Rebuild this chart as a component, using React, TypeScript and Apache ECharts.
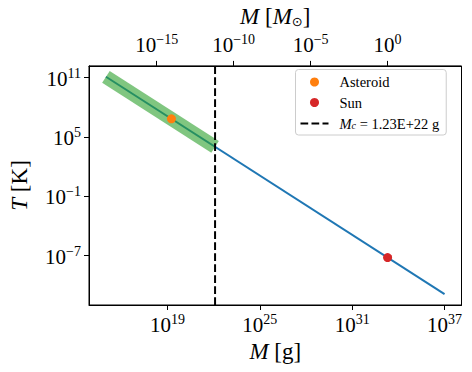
import React, { useEffect, useRef } from "react";
import * as echarts from "echarts";

// Data (real units)
const lineMassG = [1e15, 1e37];
const lineTempK = [1.23e11, 1.23e-11];
const bandMassG = [1e15, 1.23e22];
const bandTempK = [1.23e11, 1.0e4];
const asteroidMassG = [1.8e19];
const asteroidTempK = [6.8e6];
const sunMassG = [1.989e33];
const sunTempK = [6.17e-8];
const criticalMassG = 1.23e22;
const solarMassG = 1.989e33;
const xTickExps = [19, 25, 31, 37];
const yTickExps = [-7, -1, 5, 11];
const topTickExps = [-15, -10, -5, 0];

const L = Math.log10;
const FONT = "Liberation Serif";
const X_MIN = 13.9;
const X_MAX = 38.1;
const Y_MIN = -12.01;
const Y_MAX = 12.19;

const sup = (v: number) => {
  const e = Math.round(v);
  const s = e < 0 ? "\u2212" + Math.abs(e) : String(e);
  return `{b|10}{s|${s}}`;
};
const tickRich = {
  b: { fontFamily: FONT, fontSize: 21, lineHeight: 23, color: "#000", verticalAlign: "bottom" },
  s: { fontFamily: FONT, fontSize: 14, lineHeight: 14, color: "#000", verticalAlign: "top" },
};
const axisLine = { show: true, onZero: false, lineStyle: { color: "#000", width: 1 } };
const tick = (vals: number[]) => ({
  show: true,
  length: 5,
  lineStyle: { color: "#000", width: 1 },
  customValues: vals,
});
const label = (vals: number[], margin: number) => ({
  customValues: vals,
  formatter: sup,
  rich: tickRich,
  margin,
  fontFamily: FONT,
  fontSize: 21,
  color: "#000",
});

export default function App() {
  const ref = useRef<HTMLDivElement>(null);
  useEffect(() => {
    if (!ref.current) return;
    const chart = echarts.init(ref.current, null, { renderer: "svg" });
    const pair = (xs: number[], ys: number[]) => xs.map((x, i) => [L(x), L(ys[i])]);
    const cx = L(criticalMassG);
    const solarExp = L(solarMassG);
    const titleStyle = (extra: any = {}) => ({
      fontFamily: FONT,
      fontSize: 23,
      color: "#000",
      rich: {
        n: { fontFamily: FONT, fontSize: 23, color: "#000" },
        i: { fontFamily: FONT, fontSize: 23, fontStyle: "italic", color: "#000" },
        ...extra,
      },
    });
    const legendRich = {
      n: { fontFamily: FONT, fontSize: 14.5, lineHeight: 14, color: "#000" },
      i: { fontFamily: FONT, fontSize: 14.5, lineHeight: 14, fontStyle: "italic", color: "#000" },
      sub: { fontFamily: FONT, fontSize: 10, lineHeight: 14, fontStyle: "italic", color: "#000", verticalAlign: "bottom", padding: [5, 0, 0, 0] },
    };
    const legendText = {
      fontFamily: FONT,
      fontSize: 14.5,
      lineHeight: 14,
      color: "#000",
      padding: [0, 0, 0, 6],
      rich: legendRich,
    };
    chart.setOption({
      animation: false,
      textStyle: { fontFamily: FONT },
      grid: { left: 89, right: 10.5, top: 62, bottom: 67, show: true, borderColor: "#000", borderWidth: 1 },
      legend: {
        orient: "vertical",
        left: 295.5,
        top: 69.5,
        padding: [5, 7, 4, 4],
        itemWidth: 28,
        itemHeight: 9,
        itemGap: 5.5,
        backgroundColor: "rgba(255,255,255,0.8)",
        borderColor: "#cccccc",
        borderWidth: 1,
        borderRadius: 3,
        data: [
          { name: "Asteroid", textStyle: legendText },
          { name: "Sun", textStyle: legendText },
          { name: "Mc", itemStyle: { opacity: 0 }, textStyle: legendText },
        ],
        formatter: (name: string) =>
          name === "Mc" ? "{i|M}{sub|c}{n| = 1.23E+22 g}" : `{n|${name}}`,
        textStyle: legendText,
      },
      xAxis: [
        {
          type: "value",
          position: "bottom",
          min: X_MIN,
          max: X_MAX,
          axisLine,
          splitLine: { show: false },
          axisTick: tick(xTickExps),
          axisLabel: label(xTickExps, 7),
          name: "{i|M}{n| [g]}",
          nameLocation: "middle",
          nameGap: 33,
          nameTextStyle: titleStyle(),
        },
        {
          type: "value",
          position: "top",
          min: X_MIN - solarExp,
          max: X_MAX - solarExp,
          axisLine,
          splitLine: { show: false },
          axisTick: tick(topTickExps),
          axisLabel: label(topTickExps, 10),
          name: "{i|M}{n| [}{i|M}{sub|\u2299}{n|]}",
          nameLocation: "middle",
          nameGap: 31,
          nameTextStyle: titleStyle({
            sub: { fontFamily: "DejaVu Sans", fontSize: 13, color: "#000", verticalAlign: "bottom", padding: [9, 0, 0, 0] },
          }),
        },
      ],
      yAxis: {
        type: "value",
        min: Y_MIN,
        max: Y_MAX,
        axisLine,
        splitLine: { show: false },
        axisTick: tick(yTickExps),
        axisLabel: label(yTickExps, 8),
        name: "{i|T}{n| [K]}",
        nameLocation: "middle",
        nameGap: 58,
        nameRotate: 90,
        nameTextStyle: titleStyle(),
      },
      series: [
        {
          name: "Hawking",
          type: "line",
          data: pair(lineMassG, lineTempK),
          symbol: "none",
          lineStyle: { color: "#1f77b4", width: 2 },
          z: 2,
        },
        {
          name: "band",
          type: "line",
          data: pair(bandMassG, bandTempK),
          symbol: "none",
          lineStyle: { color: "#2ca02c", width: 14, opacity: 0.6, cap: "butt" },
          z: 3,
        },
        {
          name: "Mc",
          type: "line",
          data: [
            [cx, Y_MIN],
            [cx, Y_MAX],
          ],
          symbol: "none",
          itemStyle: { color: "#000" },
          lineStyle: { color: "#000", width: 2, type: [7.7, 3.3] },
          z: 4,
        },
        {
          name: "Asteroid",
          type: "scatter",
          data: pair(asteroidMassG, asteroidTempK),
          symbolSize: 9,
          itemStyle: { color: "#ff7f0e", opacity: 1 },
          z: 5,
        },
        {
          name: "Sun",
          type: "scatter",
          data: pair(sunMassG, sunTempK),
          symbolSize: 9,
          itemStyle: { color: "#d62728", opacity: 1 },
          z: 5,
        },
      ],
    });
    return () => chart.dispose();
  }, []);
  return (
    <div
      ref={ref}
      style={{ position: "fixed", left: 0, top: 0, width: 472, height: 372, background: "#fff" }}
    />
  );
}
